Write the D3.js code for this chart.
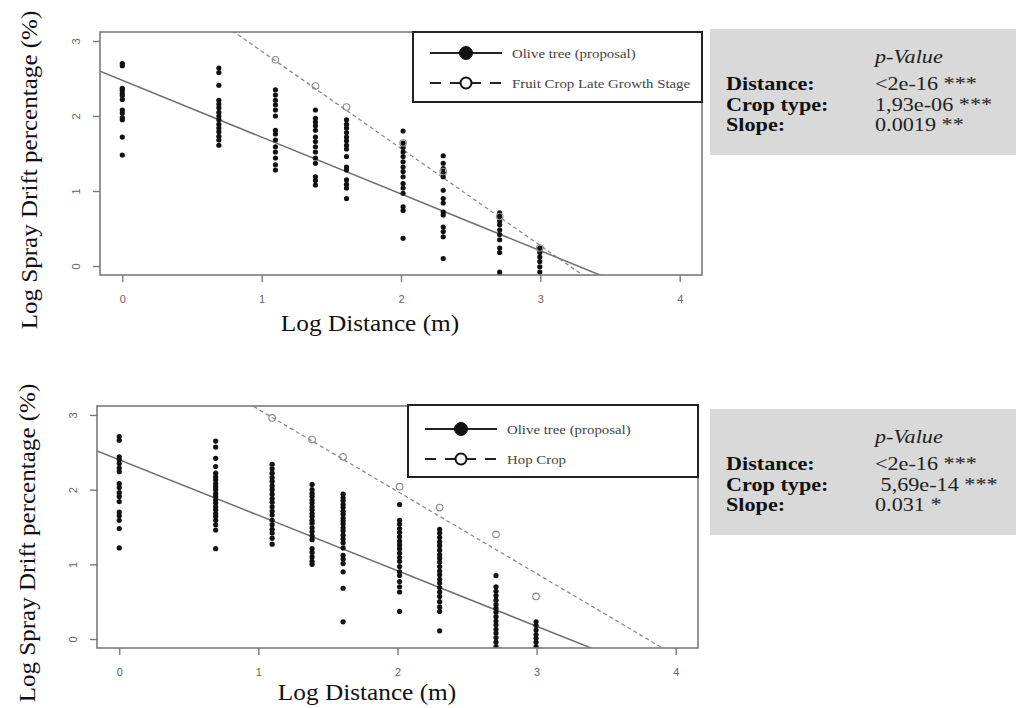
<!DOCTYPE html>
<html><head><meta charset="utf-8">
<script src="https://cdn.jsdelivr.net/npm/d3@7"></script>
<style>
html,body{margin:0;padding:0;background:#fff;}
svg{display:block;}
</style></head>
<body>
<svg id="chart" width="1016" height="708"></svg>
<script>
// ---- data ----
const logDistances = [0, 0.693, 1.099, 1.386, 1.609, 2.015, 2.303, 2.708, 2.996];
const xTicks = [0, 1, 2, 3, 4];
const yTicks = [0, 1, 2, 3];

// Top panel: olive tree (proposal) observations per distance column
const oliveTop = [
  [2.70, 2.67, 2.37, 2.34, 2.30, 2.27, 2.22, 2.08, 2.04, 1.98, 1.95, 1.72, 1.48],
  [2.64, 2.58, 2.41, 2.21, 2.16, 2.11, 2.05, 2.00, 1.95, 1.89, 1.84, 1.79, 1.73, 1.68, 1.61],
  [2.35, 2.28, 2.21, 2.15, 2.08, 2.00, 1.81, 1.76, 1.68, 1.59, 1.52, 1.44, 1.35, 1.28],
  [2.08, 1.97, 1.92, 1.87, 1.81, 1.72, 1.66, 1.59, 1.52, 1.44, 1.37, 1.19, 1.14, 1.08],
  [1.95, 1.89, 1.84, 1.78, 1.72, 1.67, 1.61, 1.56, 1.46, 1.32, 1.28, 1.15, 1.09, 1.04, 0.90],
  [1.80, 1.64, 1.58, 1.52, 1.46, 1.39, 1.32, 1.26, 1.19, 1.10, 1.04, 0.97, 0.79, 0.74, 0.37],
  [1.47, 1.37, 1.30, 1.24, 1.19, 1.01, 0.90, 0.84, 0.72, 0.68, 0.52, 0.46, 0.39, 0.10],
  [0.71, 0.66, 0.60, 0.55, 0.48, 0.42, 0.35, 0.24, 0.18, -0.08, -0.12],
  [0.24, 0.18, 0.12, 0.06, -0.01, -0.08]
];
// Top panel: fruit crop late growth stage reference points
const fruitX = [1.099, 1.386, 1.609, 2.015, 2.303, 2.708, 2.996];
const fruitY = [2.75, 2.40, 2.12, 1.64, 1.26, 0.66, 0.24];
const oliveTopFit = {intercept: 2.475, slope: -0.757};
const fruitFit = {intercept: 4.16, slope: -1.296};

// Bottom panel: olive tree (proposal)
const oliveBottom = [
  [2.71, 2.66, 2.44, 2.40, 2.35, 2.29, 2.24, 2.08, 2.03, 1.96, 1.91, 1.84, 1.70, 1.65, 1.59, 1.48, 1.22],
  [2.65, 2.57, 2.42, 2.31, 2.22, 2.17, 2.13, 2.08, 2.04, 2.00, 1.95, 1.91, 1.86, 1.82, 1.77, 1.73, 1.68, 1.64, 1.59, 1.53, 1.46, 1.21],
  [2.34, 2.28, 2.22, 2.16, 2.11, 2.05, 2.00, 1.94, 1.88, 1.83, 1.77, 1.71, 1.66, 1.59, 1.53, 1.47, 1.42, 1.35, 1.27],
  [2.07, 2.00, 1.95, 1.91, 1.86, 1.82, 1.77, 1.73, 1.68, 1.64, 1.59, 1.55, 1.49, 1.44, 1.38, 1.33, 1.21, 1.16, 1.10, 1.04, 1.00],
  [1.94, 1.89, 1.85, 1.80, 1.76, 1.71, 1.67, 1.62, 1.58, 1.54, 1.49, 1.45, 1.39, 1.34, 1.29, 1.22, 1.12, 1.07, 1.01, 0.90, 0.68, 0.23],
  [1.80, 1.59, 1.54, 1.48, 1.43, 1.37, 1.31, 1.26, 1.21, 1.15, 1.09, 1.04, 0.97, 0.90, 0.85, 0.77, 0.70, 0.63, 0.37],
  [1.47, 1.42, 1.36, 1.30, 1.25, 1.19, 1.13, 1.08, 1.03, 0.97, 0.91, 0.86, 0.80, 0.75, 0.69, 0.63, 0.57, 0.50, 0.43, 0.37, 0.11],
  [0.85, 0.70, 0.64, 0.58, 0.52, 0.46, 0.41, 0.36, 0.30, 0.24, 0.19, 0.13, 0.08, 0.02, -0.04, -0.10, -0.15],
  [0.23, 0.18, 0.12, 0.06, 0.01, -0.04, -0.10, -0.15]
];
const hopX = [1.099, 1.386, 1.609, 2.015, 2.303, 2.708, 2.996];
const hopY = [2.96, 2.67, 2.44, 2.04, 1.76, 1.40, 0.57];
const oliveBottomFit = {intercept: 2.40, slope: -0.743};
const hopFit = {intercept: 4.176, slope: -1.10};

const statLabels = ["Distance:", "Crop type:", "Slope:"];
const statsTop = ["<2e-16 ***", "1,93e-06 ***", "0.0019 **"];
const statsBottom = ["<2e-16 ***", " 5,69e-14 ***", "0.031 *"];
const legendOlive = "Olive tree (proposal)";
const legendTop2 = "Fruit Crop Late Growth Stage";
const legendBottom2 = "Hop Crop";

// ---- drawing ----
const svg = d3.select("#chart");
const serif = "'Liberation Serif','Times New Roman',serif";
const sans = "'Liberation Sans',Arial,sans-serif";

function panel(cfg, idx) {
  const x = d3.scaleLinear().domain([-0.16, 4.16]).range([cfg.left, cfg.right]);
  const y = d3.scaleLinear().domain([-0.12, 3.12]).range([cfg.bottom, cfg.top]);
  const g = svg.append("g");
  const clipId = "clip" + idx;
  svg.append("clipPath").attr("id", clipId).append("rect")
    .attr("x", cfg.left).attr("y", cfg.top)
    .attr("width", cfg.right - cfg.left).attr("height", cfg.bottom - cfg.top);

  const plot = g.append("g").attr("clip-path", `url(#${clipId})`);

  // fit lines
  const [x0, x1] = x.domain();
  plot.append("line")
    .attr("x1", x(x0)).attr("y1", y(cfg.fit.intercept + cfg.fit.slope * x0))
    .attr("x2", x(x1)).attr("y2", y(cfg.fit.intercept + cfg.fit.slope * x1))
    .attr("stroke", "#6e6e6e").attr("stroke-width", 1.5);
  plot.append("line")
    .attr("x1", x(x0)).attr("y1", y(cfg.fit2.intercept + cfg.fit2.slope * x0))
    .attr("x2", x(x1)).attr("y2", y(cfg.fit2.intercept + cfg.fit2.slope * x1))
    .attr("stroke", "#8c8c8c").attr("stroke-width", 1.3).attr("stroke-dasharray", "4,3");

  // olive points
  const pts = [];
  cfg.olive.forEach((col, i) => col.forEach(v => pts.push([logDistances[i], v])));
  plot.selectAll("circle.dot").data(pts).join("circle").attr("class", "dot")
    .attr("cx", d => x(d[0])).attr("cy", d => y(d[1])).attr("r", 2.6)
    .attr("fill", "#111");

  // reference crop open circles
  plot.selectAll("circle.open").data(cfg.refX.map((v, i) => [v, cfg.refY[i]]))
    .join("circle").attr("class", "open")
    .attr("cx", d => x(d[0])).attr("cy", d => y(d[1])).attr("r", 3.3)
    .attr("fill", "none").attr("stroke", "#8a8a8a").attr("stroke-width", 1.1);

  // box
  g.append("rect").attr("x", cfg.left).attr("y", cfg.top)
    .attr("width", cfg.right - cfg.left).attr("height", cfg.bottom - cfg.top)
    .attr("fill", "none").attr("stroke", "#7a7a7a").attr("stroke-width", 1.6);

  // axes
  const xa = g.append("g").attr("transform", `translate(0,${cfg.bottom})`)
    .call(d3.axisBottom(x).tickValues(xTicks).tickSize(7).tickPadding(13).tickFormat(d3.format("d")));
  xa.select(".domain").remove();
  xa.selectAll("line").attr("stroke", "#7a7a7a").attr("stroke-width", 1.4);
  xa.selectAll("text").attr("font-family", sans).attr("font-size", 11).attr("fill", "#666");

  const ya = g.append("g").attr("transform", `translate(${cfg.left},0)`)
    .call(d3.axisLeft(y).tickValues(yTicks).tickSize(7).tickPadding(13).tickFormat(d3.format("d")));
  ya.select(".domain").remove();
  ya.selectAll("line").attr("stroke", "#7a7a7a").attr("stroke-width", 1.4);
  ya.selectAll("text").attr("font-family", sans).attr("font-size", 11).attr("fill", "#666")
    .attr("text-anchor", "middle").attr("x", null)
    .attr("transform", `translate(${-24},0) rotate(-90)`).attr("dy", "0.35em");

  // axis titles
  g.append("text").attr("transform", `translate(${cfg.xTitleX},${cfg.xTitleY}) scale(1.1,1)`)
    .attr("text-anchor", "middle").attr("font-family", serif).attr("font-size", 23)
    .attr("fill", "#111").text("Log Distance (m)");
  g.append("text").attr("transform", `translate(${cfg.yTitleX},${cfg.yTitleY}) rotate(-90) scale(1.09,1)`)
    .attr("text-anchor", "middle").attr("font-family", serif).attr("font-size", 23)
    .attr("fill", "#111").text("Log Spray Drift percentage (%)");

  // legend
  const L = cfg.legend;
  g.append("rect").attr("x", L.x).attr("y", L.y).attr("width", L.w).attr("height", L.h)
    .attr("fill", "#fff").attr("stroke", "#222").attr("stroke-width", 2);
  const items = [{label: legendOlive, dashed: false}, {label: cfg.label2, dashed: true}];
  items.forEach((it, i) => {
    const yy = L.y + L.rowY[i];
    const lx0 = L.x + 17, lx1 = L.x + 89, cx = L.x + 53;
    g.append("line").attr("x1", lx0).attr("x2", lx1).attr("y1", yy).attr("y2", yy)
      .attr("stroke", "#222").attr("stroke-width", it.dashed ? 2 : 2.2)
      .attr("stroke-dasharray", it.dashed ? "11,9" : null);
    g.append("circle").attr("cx", cx).attr("cy", yy).attr("r", it.dashed ? 5.5 : 6.5)
      .attr("fill", it.dashed ? "#fff" : "#111").attr("stroke", "#111").attr("stroke-width", it.dashed ? 2 : 1);
    g.append("text").attr("transform", `translate(${L.x + 99},${yy + 4.5}) scale(1.1,1)`)
      .attr("font-family", serif).attr("font-size", 13.5).attr("fill", "#444")
      .text(it.label);
  });

  // stats box
  const S = cfg.stats;
  g.append("rect").attr("x", 710).attr("y", S.y).attr("width", 306).attr("height", 126)
    .attr("fill", "#d9d9d9");
  const sx = 1.2, fs = 18.5;
  g.append("text").attr("transform", `translate(875,${S.y + 34}) scale(${sx},1)`).attr("font-family", serif)
    .attr("font-size", fs).attr("font-style", "italic").attr("fill", "#222").text("p-Value");
  const rows = [61, 82, 102];
  statLabels.forEach((lab, i) => {
    g.append("text").attr("transform", `translate(726,${S.y + rows[i]}) scale(${sx},1)`).attr("font-family", serif)
      .attr("font-size", fs).attr("font-weight", "bold").attr("fill", "#111").text(lab);
    g.append("text").attr("transform", `translate(875,${S.y + rows[i]}) scale(${sx},1)`).attr("font-family", serif)
      .attr("font-size", fs).attr("fill", "#222")
      .style("white-space", "pre").text(cfg.statVals[i]);
  });
}

panel({
  left: 100, right: 702, top: 32, bottom: 275,
  olive: oliveTop, refX: fruitX, refY: fruitY,
  fit: oliveTopFit, fit2: fruitFit,
  xTitleX: 370, xTitleY: 331, yTitleX: 37, yTitleY: 170,
  legend: {x: 413, y: 32, w: 289, h: 70, rowY: [21, 51]},
  label2: legendTop2,
  stats: {y: 29}, statVals: statsTop
}, 0);

panel({
  left: 97, right: 698, top: 406, bottom: 648,
  olive: oliveBottom, refX: hopX, refY: hopY,
  fit: oliveBottomFit, fit2: hopFit,
  xTitleX: 367, xTitleY: 700, yTitleX: 35, yTitleY: 543,
  legend: {x: 408, y: 405, w: 290, h: 72, rowY: [24, 54]},
  label2: legendBottom2,
  stats: {y: 409}, statVals: statsBottom
}, 1);
</script>
</body></html>
